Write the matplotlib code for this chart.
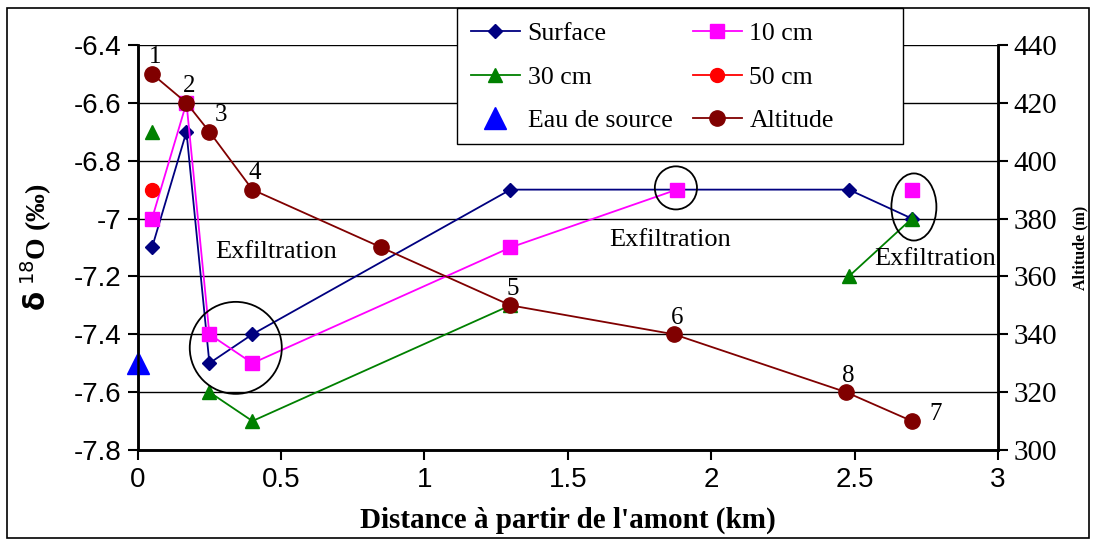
import matplotlib
matplotlib.use('Agg')
import matplotlib.pyplot as plt
import numpy as np
from matplotlib.patches import Ellipse, Rectangle
from matplotlib.ticker import FuncFormatter, MultipleLocator

# distances (km) of the sampling points
dist = [0.05, 0.17, 0.25, 0.40, 1.30, 1.88, 2.48, 2.70]

# delta 18O (permil), None = no sample
surface = [-7.1, -6.7, -7.5, -7.4, -6.9, -6.9, -6.9, -7.0]
cm10 = [-7.0, -6.6, -7.4, -7.5, -7.1, -6.9, None, -6.9]
cm30 = [-6.7, None, -7.6, -7.7, -7.3, None, -7.2, -7.0]
cm50 = [-6.9, None, None, None, None, None, None, None]

source_x = [0.0]
source_y = [-7.5]

# altitude profile (m)
alt_x = [0.05, 0.17, 0.25, 0.40, 0.85, 1.30, 1.87, 2.47, 2.70]
alt_y = [430, 420, 410, 390, 370, 350, 340, 320, 310]
alt_labels = ['1', '2', '3', '4', '', '5', '6', '8', '7']


def arr(v):
    return np.array([np.nan if a is None else a for a in v], dtype=float)


serif = 'Liberation Serif'
sans = 'Liberation Sans'

fig = plt.figure(figsize=(10.93, 5.4), dpi=100)
ax = fig.add_axes([0.126, 0.1667, 0.787, 0.75])
ax2 = ax.twinx()

l_surf, = ax.plot(dist, arr(surface), color='#000080', marker='D', ms=7.5, lw=1.3, label='Surface')
l_10, = ax.plot(dist, arr(cm10), color='#FF00FF', marker='s', ms=10, lw=1.3, label='10 cm')
l_30, = ax.plot(dist, arr(cm30), color='#008000', marker='^', ms=10, lw=1.3, label='30 cm')
l_50, = ax.plot(dist, arr(cm50), color='#FF0000', marker='o', ms=10, lw=1.3, label='50 cm')
l_src, = ax.plot(source_x, source_y, color='#0000FF', marker='^', ms=16, lw=0,
                 label='Eau de source', clip_on=False, zorder=6)
l_alt, = ax2.plot(alt_x, alt_y, color='#800000', marker='o', ms=11, lw=1.3, label='Altitude')

ax.set_xlim(0, 3)
ax.set_ylim(-7.8, -6.4)
ax2.set_ylim(300, 440)
ax.xaxis.set_major_locator(MultipleLocator(0.5))
ax.yaxis.set_major_locator(MultipleLocator(0.2))
ax2.yaxis.set_major_locator(MultipleLocator(20))
ax.xaxis.set_major_formatter(FuncFormatter(lambda v, p: f'{v:g}'))
ax.yaxis.set_major_formatter(FuncFormatter(lambda v, p: f'{round(v, 1):g}'))

ax.grid(True, axis='y', color='black', lw=1.0)
ax.grid(False, axis='x')

for a in (ax, ax2):
    a.spines['top'].set_visible(False)
    for s in ('left', 'right', 'bottom'):
        a.spines[s].set_linewidth(1.8)
ax.tick_params(axis='both', direction='out', length=7, width=1.5, labelsize=20, pad=5)
for t in ax.get_xticklabels() + ax.get_yticklabels():
    t.set_fontfamily(sans)
ax2.tick_params(axis='y', direction='out', length=7, width=1.5, labelsize=21, pad=4)
for t in ax2.get_yticklabels():
    t.set_fontfamily(serif)

ax.set_xlabel("Distance à partir de l'amont (km)", fontsize=21, fontweight='bold',
              family=serif, labelpad=10)
ax.set_ylabel(r'$\mathbf{\delta}$ $^{18}$O (‰)', fontsize=20, fontweight='bold',
              family=serif, labelpad=14)
ax2.set_ylabel('Altitude (m)', fontsize=11.5, fontweight='bold', family=serif, labelpad=11)

# station numbers along the altitude profile
for x, y, lab in zip(alt_x, alt_y, alt_labels):
    if not lab:
        continue
    if lab == '7':
        ax2.annotate(lab, (x, y), xytext=(17, 5), textcoords='offset points',
                     ha='center', va='center', fontsize=18, family=serif)
    elif lab == '3':
        ax2.annotate(lab, (x, y), xytext=(8, 4), textcoords='offset points',
                     ha='center', va='bottom', fontsize=18, family=serif)
    else:
        ax2.annotate(lab, (x, y), xytext=(2, 4), textcoords='offset points',
                     ha='center', va='bottom', fontsize=18, family=serif)

# exfiltration annotations
ax.text(0.27, -7.115, 'Exfiltration', fontsize=19, family=serif, va='center', ha='left')
ax.text(1.645, -7.075, 'Exfiltration', fontsize=19, family=serif, va='center', ha='left')
ax.text(2.57, -7.14, 'Exfiltration', fontsize=19, family=serif, va='center', ha='left',
        clip_on=False)

ax.add_patch(Ellipse((0.342, -7.447), 0.321, 0.318, fill=False, ec='black', lw=1.3, zorder=7))
ax.add_patch(Ellipse((1.877, -6.894), 0.147, 0.149, fill=False, ec='black', lw=1.3, zorder=7))
ax.add_patch(Ellipse((2.707, -6.96), 0.157, 0.232, fill=False, ec='black', lw=1.3, zorder=7))

# legend box drawn separately so it can be wider than its entries
box = Rectangle((0.418, 0.7333), 0.408, 0.2519, transform=fig.transFigure,
                fc='white', ec='black', lw=1.0, zorder=19)
fig.patches.append(box)

# row-wise order as in the original: matplotlib fills legend columns first
handles = [l_surf, l_30, l_src, l_10, l_50, l_alt]
leg = fig.legend(handles=handles, ncol=2, loc='upper left',
                 bbox_to_anchor=(0.418, 0.985), frameon=False,
                 prop={'family': serif, 'size': 18.5},
                 handlelength=1.9, columnspacing=0.8, labelspacing=0.8,
                 borderpad=0.55, handletextpad=0.3, borderaxespad=0)
leg.set_zorder(20)

# outer border of the figure
fig.patches.append(Rectangle((0.006, 0.004), 0.99, 0.982, transform=fig.transFigure,
                             fill=False, ec='black', lw=1.2))

fig.savefig('out.png', dpi=100)
